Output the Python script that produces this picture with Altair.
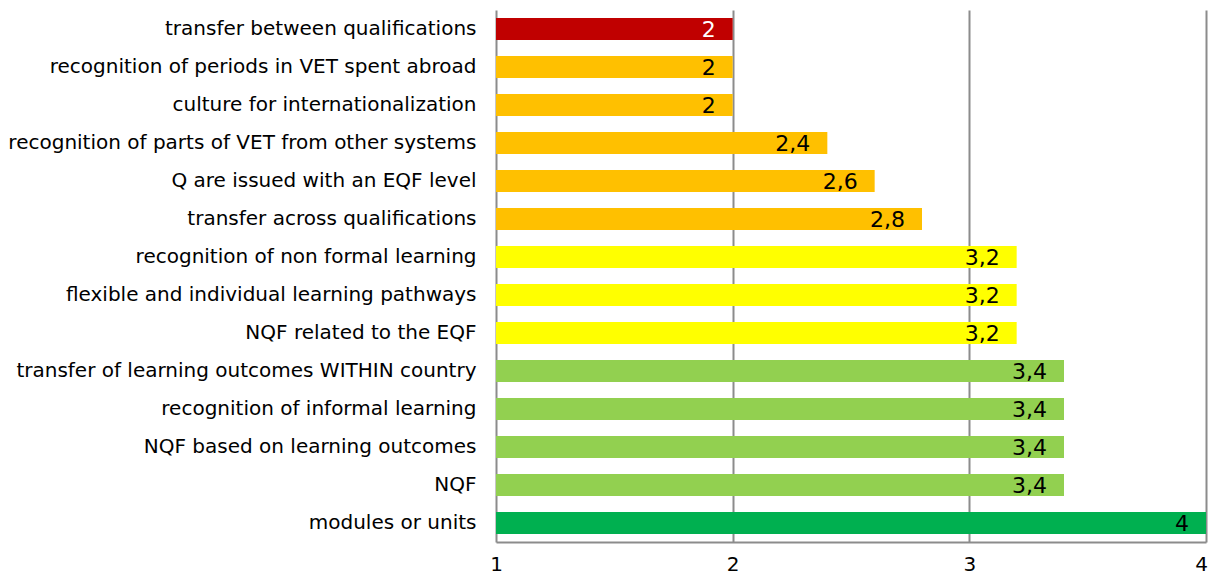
import altair as alt
import pandas as pd

categories = [
    "transfer between qualifications",
    "recognition of periods in VET spent abroad",
    "culture for internationalization",
    "recognition of parts of VET from other systems",
    "Q are issued with an EQF level",
    "transfer across qualifications",
    "recognition of non formal  learning",
    "flexible and individual learning pathways",
    "NQF related to the EQF",
    "transfer of learning outcomes WITHIN country",
    "recognition of informal learning",
    "NQF based on learning outcomes",
    "NQF",
    "modules or units",
]
values = [2, 2, 2, 2.4, 2.6, 2.8, 3.2, 3.2, 3.2, 3.4, 3.4, 3.4, 3.4, 4]
labels = ["2", "2", "2", "2,4", "2,6", "2,8", "3,2", "3,2", "3,2", "3,4", "3,4", "3,4", "3,4", "4"]
groups = ["red", "orange", "orange", "orange", "orange", "orange", "yellow", "yellow", "yellow",
          "lightgreen", "lightgreen", "lightgreen", "lightgreen", "green"]
x_ticks = [1, 2, 3, 4]

df = pd.DataFrame({"category": categories, "value": values, "label": labels, "group": groups})

FONT = "DejaVu Sans"

color_scale = alt.Scale(
    domain=["red", "orange", "yellow", "lightgreen", "green"],
    range=["#C00000", "#FFC000", "#FFFF00", "#92D050", "#00B050"],
)

y_enc = alt.Y("category:N", sort=categories, title=None,
              scale=alt.Scale(paddingInner=0.42, paddingOuter=0.21),
              axis=alt.Axis(labelFont=FONT, labelFontSize=20, labelColor="#000000",
                            labelPadding=20, ticks=False, domain=False, labelLimit=500))
x_enc = alt.X("value:Q", title=None,
              scale=alt.Scale(domain=[1, 4], nice=False, zero=False),
              axis=alt.Axis(values=x_ticks, format="d", ticks=False, labelFont=FONT,
                            labelFontSize=20, labelColor="#000000", labelPadding=12,
                            labelOffset={"condition": {"test": "datum.value == 4", "value": -5}, "value": 0},
                            grid=True, gridColor="#8c8c8c", gridWidth=2,
                            domainColor="#8c8c8c", domainWidth=2, labelFlush=False))

bars = alt.Chart(df).mark_bar().encode(
    y=y_enc,
    x=x_enc,
    x2=alt.datum(1),
    color=alt.Color("group:N", scale=color_scale, legend=None),
)

text = alt.Chart(df).mark_text(align="right", baseline="middle", dx=-17, dy=1,
                               font=FONT, fontSize=22).encode(
    y=alt.Y("category:N", sort=categories),
    x=alt.X("value:Q"),
    text="label:N",
    color=alt.condition(alt.datum.group == "red", alt.value("#ffffff"), alt.value("#000000")),
)

chart = (bars + text).properties(
    width=710, height=532,
    autosize=alt.AutoSizeParams(type="none"),
    padding={"left": 488, "top": 2, "right": 2, "bottom": 36},
).configure_view(stroke=None)

chart.save("out.html", embed_options={"renderer": "svg", "actions": False})
